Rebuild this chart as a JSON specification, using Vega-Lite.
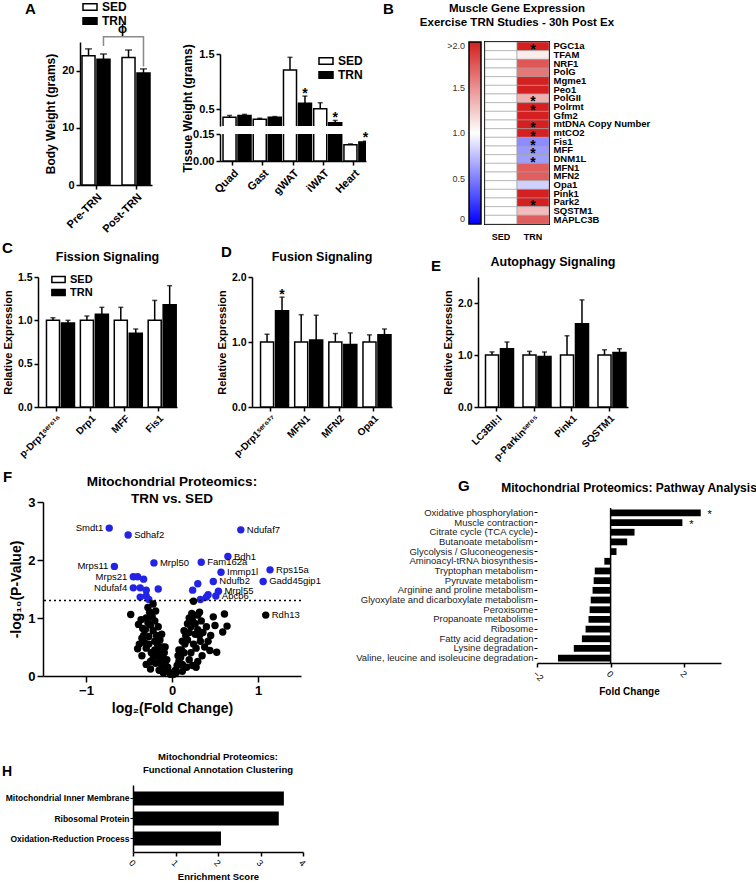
{
"$schema": "https://vega.github.io/schema/vega-lite/v6.json",
"padding": {"left": 0, "top": 1, "right": 0, "bottom": 0},
"background": "white",
"spacing": 37,
"resolve": {"scale": {"fill": "independent", "color": "independent"}},
"vconcat": [
 {"spacing": -2, "resolve": {"scale": {"fill": "independent", "color": "independent"}}, "vconcat": [
  {"spacing": 24, "resolve": {"scale": {"fill": "independent", "color": "independent"}}, "hconcat": [
   {"width": 1, "height": 1, "data": {"values": []}, "mark": "point", "encoding": {}},
   {"spacing": 24, "resolve": {"scale": {"fill": "independent", "color": "independent"}}, "hconcat": [
    {"spacing": 29, "resolve": {"scale": {"fill": "independent", "color": "independent"}}, "hconcat": [
     {
      "title": {"text": "A", "anchor": "start", "frame": "group", "fontSize": 15, "dx": -55, "offset": -16},
      "width": 72, "height": 143,
      "layer": [
       {"data": {"name": "bw"}, "mark": {"type": "bar", "stroke": "#000", "strokeWidth": 1.5},
        "encoding": {
         "x": {"field": "time", "type": "nominal", "scale": {"domain": ["Pre-TRN", "Post-TRN"], "paddingInner": 0.3, "paddingOuter": 0.05}, "axis": {"title": null, "labelAngle": -45, "labelFontSize": 11}},
         "xOffset": {"field": "group", "type": "nominal", "scale": {"domain": ["SED", "TRN"], "paddingInner": 0.13}},
         "y": {"field": "mean", "type": "quantitative", "scale": {"domain": [0, 25], "nice": false}, "axis": {"title": "Body  Weight (grams)", "values": [0, 5, 10, 15, 20, 25], "labelFontSize": 11, "titleFontSize": 12}},
         "fill": {"field": "group", "type": "nominal", "scale": {"domain": ["SED", "TRN"], "range": ["#ffffff", "#000000"]},
          "legend": {"title": null, "orient": "none", "legendX": 4, "legendY": -41, "symbolType": "M-1.4,-0.65H1.4V0.65H-1.4Z", "symbolSize": 100, "symbolStrokeColor": "#000", "symbolStrokeWidth": 1.5, "labelFontSize": 12, "labelFontWeight": "bold", "rowPadding": 0, "labelOffset": 6, "padding": 0}}
        }},
       {"data": {"name": "bw"}, "mark": {"type": "rule", "strokeWidth": 1.5, "color": "#000"},
        "encoding": {"x": {"field": "time", "type": "nominal"}, "xOffset": {"field": "group", "type": "nominal"}, "y": {"field": "mean", "type": "quantitative"}, "y2": {"field": "upper"}}},
       {"data": {"name": "bw"}, "mark": {"type": "tick", "thickness": 1.5, "size": 7, "color": "#000"},
        "encoding": {"x": {"field": "time", "type": "nominal"}, "xOffset": {"field": "group", "type": "nominal"}, "y": {"field": "upper", "type": "quantitative"}}},
       {"data": {"name": "bracket"}, "mark": {"type": "line", "color": "#8a8a8a", "strokeWidth": 1.5},
        "encoding": {"x": {"field": "time", "type": "nominal"}, "xOffset": {"field": "group", "type": "nominal"}, "y": {"field": "y", "type": "quantitative"}, "order": {"field": "o", "type": "quantitative"}}},
       {"data": {"name": "phi"}, "mark": {"type": "text", "fontSize": 12, "fontWeight": "bold", "dx": -6},
        "encoding": {"x": {"field": "time", "type": "nominal"}, "xOffset": {"field": "group", "type": "nominal"}, "y": {"field": "y", "type": "quantitative"}, "text": {"field": "label"}}}
      ]
     },
     {
      "title": {"text": "B", "anchor": "start", "frame": "group", "fontSize": 15, "dx": 163, "offset": 25},
      "spacing": 8, "bounds": "flush",
      "resolve": {"scale": {"fill": "independent", "color": "independent"}},
      "vconcat": [
       {"width": 146, "height": 4, "data": {"values": []}, "mark": "point", "encoding": {}},
       {"width": 146, "height": 72, "data": {"name": "tissue"},
        "encoding": {
         "x": {"field": "tissue", "type": "nominal", "scale": {"domain": ["Quad", "Gast", "gWAT", "iWAT", "Heart"], "paddingInner": 0.37, "paddingOuter": 0.1}, "axis": null},
         "xOffset": {"field": "group", "type": "nominal", "scale": {"domain": ["SED", "TRN"], "paddingInner": 0.4}}
        },
        "layer": [
         {"mark": {"type": "bar", "stroke": "#000", "strokeWidth": 1.5, "clip": true},
          "encoding": {
           "y": {"field": "mean", "type": "quantitative", "scale": {"domain": [0.2, 1.5], "nice": false, "zero": false}, "axis": {"values": [0.5, 1, 1.5], "format": ".1f", "title": "Tissue Weight (grams)", "titleY": 54, "labelFontSize": 11, "titleFontSize": 12}},
           "fill": {"field": "group", "type": "nominal", "scale": {"domain": ["SED", "TRN"], "range": ["#ffffff", "#000000"]},
            "legend": {"title": null, "orient": "none", "legendX": 100, "legendY": 1, "symbolType": "M-1.4,-0.65H1.4V0.65H-1.4Z", "symbolSize": 100, "symbolStrokeColor": "#000", "symbolStrokeWidth": 1.5, "labelFontSize": 12, "labelFontWeight": "bold", "rowPadding": 0, "labelOffset": 6, "padding": 0}}
          }},
         {"mark": {"type": "rule", "strokeWidth": 1.5, "color": "#000", "clip": true}, "encoding": {"y": {"field": "mean", "type": "quantitative"}, "y2": {"field": "upper"}}},
         {"mark": {"type": "tick", "thickness": 1.5, "size": 5, "color": "#000", "clip": true}, "encoding": {"y": {"field": "upper", "type": "quantitative"}}},
         {"transform": [{"filter": "datum.sig && datum.upper > 0.2"}], "mark": {"type": "text", "text": "*", "fontSize": 14, "fontWeight": "bold", "dy": -2}, "encoding": {"y": {"field": "upper", "type": "quantitative"}}}
        ]
       },
       {"width": 146, "height": 27, "data": {"name": "tissue"},
        "encoding": {
         "x": {"field": "tissue", "type": "nominal", "scale": {"domain": ["Quad", "Gast", "gWAT", "iWAT", "Heart"], "paddingInner": 0.37, "paddingOuter": 0.1}, "axis": {"title": null, "labelAngle": -45, "labelFontSize": 11}},
         "xOffset": {"field": "group", "type": "nominal", "scale": {"domain": ["SED", "TRN"], "paddingInner": 0.4}}
        },
        "layer": [
         {"mark": {"type": "bar", "stroke": "#000", "strokeWidth": 1.5, "clip": true},
          "encoding": {
           "y": {"field": "mean", "type": "quantitative", "scale": {"domain": [0, 0.15], "nice": false}, "axis": {"values": [0, 0.05, 0.1, 0.15], "format": ".2f", "title": null, "labelFontSize": 11, "labelOverlap": false}},
           "fill": {"field": "group", "type": "nominal", "scale": {"domain": ["SED", "TRN"], "range": ["#ffffff", "#000000"]}, "legend": null}
          }},
         {"mark": {"type": "rule", "strokeWidth": 1.5, "color": "#000", "clip": true}, "encoding": {"y": {"field": "mean", "type": "quantitative"}, "y2": {"field": "upper"}}},
         {"mark": {"type": "tick", "thickness": 1.5, "size": 5, "color": "#000", "clip": true}, "encoding": {"y": {"field": "upper", "type": "quantitative"}}},
         {"transform": [{"filter": "datum.sig && datum.upper < 0.2"}], "mark": {"type": "text", "text": "*", "fontSize": 14, "fontWeight": "bold", "dy": -3}, "encoding": {"y": {"field": "upper", "type": "quantitative"}}}
        ]
       }
      ]
     }
    ]},
    {
     "title": {"text": ["Muscle Gene Expression", "Exercise TRN Studies - 30h Post Ex"], "fontSize": 11.5, "anchor": "middle", "frame": "group", "offset": 12, "lineHeight": 14},
     "width": 64, "height": 182,
     "view": {"stroke": "#000", "strokeWidth": 2},
     "data": {"name": "heat"},
     "encoding": {
      "x": {"field": "group", "type": "nominal", "scale": {"domain": ["SED", "TRN"], "paddingInner": 0, "paddingOuter": 0}, "axis": {"orient": "bottom", "title": null, "labelAngle": 0, "ticks": false, "domain": false, "labelFontSize": 9, "labelPadding": 8}},
      "y": {"field": "gene", "type": "nominal", "scale": {"domain": ["PGC1a", "TFAM", "NRF1", "PolG", "Mgme1", "Peo1", "PolGII", "Polrmt", "Gfm2", "mtDNA Copy Number", "mtCO2", "Fis1", "MFF", "DNM1L", "MFN1", "MFN2", "Opa1", "Pink1", "Park2", "SQSTM1", "MAPLC3B"], "paddingInner": 0, "paddingOuter": 0}, "axis": {"orient": "right", "title": null, "ticks": false, "domain": false, "labelFontSize": 9.5, "labelPadding": 4}}
     },
     "layer": [
      {"mark": {"type": "rect", "stroke": "#a0a0a0", "strokeWidth": 0.6},
       "encoding": {"color": {"field": "value", "type": "quantitative", "scale": {"type": "linear", "domain": [0, 1, 2], "range": ["#0000ff", "#ffffff", "#d42020"], "interpolate": "rgb", "clamp": true, "nice": false, "zero": false},
        "legend": {"title": null, "orient": "none", "legendX": -16, "legendY": 0, "direction": "vertical", "gradientLength": 182, "gradientThickness": 12, "gradientStrokeColor": "#000", "gradientStrokeWidth": 1.5, "values": [0, 0.5, 1, 1.5, 2], "labelExpr": "datum.value >= 2 ? '>2.0' : datum.value == 0 ? '0' : format(datum.value, '.1f')", "labelFontSize": 9, "labelFontWeight": "normal", "labelColor": "#333", "labelOverlap": false,
         "encode": {"labels": {"update": {"align": {"value": "right"}, "x": {"value": -4}}}}}}}},
      {"transform": [{"filter": "datum.sig"}], "mark": {"type": "text", "text": "*", "fontSize": 14, "fontWeight": "bold", "dy": 4}}
     ]
    }
   ]}
  ]},
  {"spacing": 6, "resolve": {"scale": {"fill": "independent", "color": "independent"}}, "vconcat": [
   {"spacing": 1, "resolve": {"scale": {"fill": "independent", "color": "independent"}}, "hconcat": [
    {"width": 1, "height": 1, "data": {"values": []}, "mark": "point", "encoding": {}},
    {"spacing": 39, "resolve": {"scale": {"fill": "independent", "color": "independent"}}, "hconcat": [
     {"spacing": 39, "resolve": {"scale": {"fill": "independent", "color": "independent"}}, "hconcat": [
      {
       "title": {"text": "C", "anchor": "start", "frame": "group", "fontSize": 15, "dx": -36, "offset": -5},
       "resolve": {"scale": {"fill": "independent", "color": "independent"}},
       "vconcat": [
        {"title": {"text": "Fission Signaling", "fontSize": 12.5, "offset": 9},
         "width": 139, "height": 130, "data": {"name": "fission"},
         "encoding": {
          "x": {"field": "protein", "type": "nominal", "scale": {"domain": ["p-Drp1ˢᵉʳ⁶¹⁶", "Drp1", "MFF", "Fis1"], "paddingInner": 0.4, "paddingOuter": 0.25}, "axis": {"title": null, "labelAngle": -45, "labelFontSize": 10}},
          "xOffset": {"field": "group", "type": "nominal", "scale": {"domain": ["SED", "TRN"], "paddingInner": 0.38}}
         },
         "layer": [
          {"mark": {"type": "bar", "stroke": "#000", "strokeWidth": 1.5},
           "encoding": {
            "y": {"field": "mean", "type": "quantitative", "scale": {"domain": [0, 1.5], "nice": false}, "axis": {"values": [0, 0.5, 1, 1.5], "format": ".1f", "title": "Relative  Expression", "labelFontSize": 10.5, "titleFontSize": 11}},
            "fill": {"field": "group", "type": "nominal", "scale": {"domain": ["SED", "TRN"], "range": ["#ffffff", "#000000"]},
             "legend": {"title": null, "orient": "none", "legendX": 15, "legendY": -3, "symbolType": "M-1.4,-0.65H1.4V0.65H-1.4Z", "symbolSize": 90, "symbolStrokeColor": "#000", "symbolStrokeWidth": 1.5, "labelFontSize": 11, "labelFontWeight": "bold", "rowPadding": 0, "labelOffset": 6, "padding": 0}}
           }},
          {"mark": {"type": "rule", "strokeWidth": 1.5, "color": "#000"}, "encoding": {"y": {"field": "mean", "type": "quantitative"}, "y2": {"field": "upper"}}},
          {"mark": {"type": "tick", "thickness": 1.5, "size": 5, "color": "#000"}, "encoding": {"y": {"field": "upper", "type": "quantitative"}}}
         ]
        }
       ]
      },
      {
       "title": {"text": "D", "anchor": "start", "frame": "group", "fontSize": 15, "dx": -31, "offset": -9},
       "resolve": {"scale": {"fill": "independent", "color": "independent"}},
       "vconcat": [
        {"title": {"text": "Fusion Signaling", "fontSize": 12.5, "offset": 9},
         "width": 140, "height": 130, "data": {"name": "fusion"},
         "encoding": {
          "x": {"field": "protein", "type": "nominal", "scale": {"domain": ["p-Drp1ˢᵉʳ⁶³⁷", "MFN1", "MFN2", "Opa1"], "paddingInner": 0.4, "paddingOuter": 0.25}, "axis": {"title": null, "labelAngle": -45, "labelFontSize": 10}},
          "xOffset": {"field": "group", "type": "nominal", "scale": {"domain": ["SED", "TRN"], "paddingInner": 0.38}}
         },
         "layer": [
          {"mark": {"type": "bar", "stroke": "#000", "strokeWidth": 1.5},
           "encoding": {
            "y": {"field": "mean", "type": "quantitative", "scale": {"domain": [0, 2], "nice": false}, "axis": {"values": [0, 0.5, 1, 1.5, 2], "format": ".1f", "title": "Relative  Expression", "labelFontSize": 10.5, "titleFontSize": 11}},
            "fill": {"field": "group", "type": "nominal", "scale": {"domain": ["SED", "TRN"], "range": ["#ffffff", "#000000"]}, "legend": null}
           }},
          {"mark": {"type": "rule", "strokeWidth": 1.5, "color": "#000"}, "encoding": {"y": {"field": "mean", "type": "quantitative"}, "y2": {"field": "upper"}}},
          {"mark": {"type": "tick", "thickness": 1.5, "size": 5, "color": "#000"}, "encoding": {"y": {"field": "upper", "type": "quantitative"}}},
          {"transform": [{"filter": "datum.sig"}], "mark": {"type": "text", "text": "*", "fontSize": 14, "fontWeight": "bold", "dy": -2}, "encoding": {"y": {"field": "upper", "type": "quantitative"}}}
         ]
        }
       ]
      }
     ]},
     {
      "title": {"text": "E", "anchor": "start", "frame": "group", "fontSize": 15, "dx": -47, "offset": -18},
      "resolve": {"scale": {"fill": "independent", "color": "independent"}},
      "vconcat": [
       {"title": {"text": "Autophagy Signaling", "fontSize": 12.5, "offset": 9},
        "width": 150, "height": 130, "data": {"name": "autophagy"},
        "encoding": {
         "x": {"field": "protein", "type": "nominal", "scale": {"domain": ["LC3BII:I", "p-Parkinˢᵉʳ⁶⁵", "Pink1", "SQSTM1"], "paddingInner": 0.4, "paddingOuter": 0.2}, "axis": {"title": null, "labelAngle": -45, "labelFontSize": 10}},
         "xOffset": {"field": "group", "type": "nominal", "scale": {"domain": ["SED", "TRN"], "paddingInner": 0.38}}
        },
        "layer": [
         {"mark": {"type": "bar", "stroke": "#000", "strokeWidth": 1.5},
          "encoding": {
           "y": {"field": "mean", "type": "quantitative", "scale": {"domain": [0, 2.5], "nice": false}, "axis": {"values": [0, 0.5, 1, 1.5, 2, 2.5], "format": ".1f", "title": "Relative  Expression", "labelFontSize": 10.5, "titleFontSize": 11}},
           "fill": {"field": "group", "type": "nominal", "scale": {"domain": ["SED", "TRN"], "range": ["#ffffff", "#000000"]}, "legend": null}
          }},
         {"mark": {"type": "rule", "strokeWidth": 1.5, "color": "#000"}, "encoding": {"y": {"field": "mean", "type": "quantitative"}, "y2": {"field": "upper"}}},
         {"mark": {"type": "tick", "thickness": 1.5, "size": 5, "color": "#000"}, "encoding": {"y": {"field": "upper", "type": "quantitative"}}}
        ]
       }
      ]
     }
    ]}
   ]},
   {"spacing": 2, "resolve": {"scale": {"fill": "independent", "color": "independent"}}, "hconcat": [
    {"width": 1, "height": 1, "data": {"values": []}, "mark": "point", "encoding": {}},
    {"spacing": 34, "resolve": {"scale": {"fill": "independent", "color": "independent"}}, "hconcat": [
     {
      "title": {"text": "F", "anchor": "start", "frame": "group", "fontSize": 15, "dx": -40, "offset": -10},
      "resolve": {"scale": {"fill": "independent", "color": "independent"}},
      "vconcat": [
       {"title": {"text": ["Mitochondrial Proteomics:", "TRN vs. SED"], "fontSize": 13.5, "lineHeight": 17, "offset": -9},
        "width": 258, "height": 174,
        "layer": [
         {"data": {"name": "volcano"}, "mark": {"type": "circle", "size": 55, "opacity": 1},
          "encoding": {
           "x": {"field": "x", "type": "quantitative", "scale": {"domain": [-1.5, 1.5], "nice": false}, "axis": {"values": [-1, 0, 1], "format": "d", "title": "log₂(Fold Change)", "labelFontSize": 13, "titleFontSize": 14, "tickSize": 6}},
           "y": {"field": "y", "type": "quantitative", "scale": {"domain": [0, 3], "nice": false}, "axis": {"values": [0, 1, 2, 3], "format": "d", "title": "-log₁₀(P-Value)", "labelFontSize": 13, "titleFontSize": 14, "tickSize": 6}},
           "color": {"field": "sig", "type": "nominal", "scale": {"domain": ["no", "yes"], "range": ["#000000", "#2323e6"]}, "legend": null}
          }},
         {"data": {"values": [{}]}, "mark": {"type": "rule", "strokeDash": [2, 3], "strokeWidth": 1.5, "color": "#000"}, "encoding": {"y": {"datum": 1.3}}},
         {"data": {"name": "volcano"}, "transform": [{"filter": {"field": "label", "oneOf": ["Smdt1", "Mrps11", "Mrps21", "Ndufaf4"]}}],
          "mark": {"type": "text", "align": "right", "dx": -6, "fontSize": 9.5},
          "encoding": {"x": {"field": "x", "type": "quantitative"}, "y": {"field": "y", "type": "quantitative"}, "text": {"field": "label"}}},
         {"data": {"name": "volcano"}, "transform": [{"filter": "isValid(datum.label) && datum.label != '' && indexof(['Smdt1','Mrps11','Mrps21','Ndufaf4'], datum.label) < 0"}],
          "mark": {"type": "text", "align": "left", "dx": 6, "fontSize": 9.5},
          "encoding": {"x": {"field": "x", "type": "quantitative"}, "y": {"field": "y", "type": "quantitative"}, "text": {"field": "label"}}}
        ]
       }
      ]
     },
     {
      "title": {"text": "G", "anchor": "start", "frame": "group", "fontSize": 15, "dx": -79, "offset": -12},
      "bounds": "flush", "spacing": 5,
      "resolve": {"scale": {"fill": "independent", "color": "independent"}},
      "vconcat": [
       {"width": 1, "height": 1, "data": {"values": []}, "mark": "point", "encoding": {}},
       {"title": {"text": "Mitochondrial Proteomics: Pathway Analysis", "fontSize": 12, "anchor": "middle", "frame": "group", "offset": 12},
        "width": 184, "height": 155,
        "layer": [
         {"data": {"name": "pathway"}, "mark": {"type": "bar", "color": "#000"},
          "encoding": {
           "y": {"field": "pathway", "type": "nominal", "sort": null, "scale": {"paddingInner": 0.3, "paddingOuter": 0.15}, "axis": {"title": null, "domain": false, "labelFontWeight": "normal", "labelFontSize": 9.5, "labelColor": "#222", "tickSize": 3, "tickWidth": 1, "labelPadding": 1}},
           "x": {"field": "fc", "type": "quantitative", "scale": {"domain": [-2, 3], "nice": false}, "axis": {"values": [-2, -1, 0, 1, 2, 3], "format": "d", "labelAngle": 45, "labelOverlap": false, "labelFontWeight": "normal", "labelFontSize": 9, "title": "Fold Change", "titleFontSize": 10, "tickSize": 4}}
          }},
         {"data": {"values": [{}]}, "mark": {"type": "rule", "strokeWidth": 1.5, "color": "#000"}, "encoding": {"x": {"datum": 0}}},
         {"data": {"name": "pathway"}, "transform": [{"filter": "datum.sig"}], "mark": {"type": "text", "text": "*", "fontSize": 11, "dx": 9, "dy": 2},
          "encoding": {"y": {"field": "pathway", "type": "nominal", "sort": null}, "x": {"field": "fc", "type": "quantitative"}}}
        ]
       }
      ]
     }
    ]}
   ]}
  ]}
 ]},
 {"spacing": 1, "resolve": {"scale": {"fill": "independent", "color": "independent"}}, "hconcat": [
  {"width": 1, "height": 1, "data": {"values": []}, "mark": "point", "encoding": {}},
  {
   "title": {"text": "H", "anchor": "start", "frame": "group", "fontSize": 14, "dx": -131, "offset": -27},
   "resolve": {"scale": {"fill": "independent", "color": "independent"}},
   "vconcat": [
    {"title": {"text": ["Mitochondrial Proteomics:", "Functional Annotation Clustering"], "fontSize": 9.5, "lineHeight": 12.5, "offset": 11},
     "width": 170, "height": 67, "data": {"name": "cluster"},
     "mark": {"type": "bar", "color": "#000"},
     "encoding": {
      "y": {"field": "term", "type": "nominal", "sort": null, "scale": {"paddingInner": 0.3, "paddingOuter": 0.32}, "axis": {"title": null, "labelFontSize": 8.5, "tickSize": 3, "tickWidth": 1, "labelPadding": 1}},
      "x": {"field": "score", "type": "quantitative", "scale": {"domain": [0, 4], "nice": false}, "axis": {"values": [0, 1, 2, 3, 4], "format": "d", "labelAngle": 45, "labelOverlap": false, "labelFontWeight": "normal", "labelFontSize": 9, "title": "Enrichment Score", "titleFontSize": 9.5, "tickSize": 4}}
     }
    }
   ]
  }
 ]}
],
"config": {
 "font": "Liberation Sans",
 "view": {"stroke": null},
 "axis": {"grid": false, "domainColor": "#000", "domainWidth": 1.5, "tickColor": "#000", "tickWidth": 1.5, "tickSize": 4, "labelColor": "#000", "titleColor": "#000", "labelFontWeight": "bold", "titleFontWeight": "bold", "labelFont": "Liberation Sans", "titleFont": "Liberation Sans", "labelFlush": false, "labelOverlap": false, "labelPadding": 2},
 "legend": {"labelFont": "Liberation Sans", "labelColor": "#000"},
 "title": {"font": "Liberation Sans", "fontWeight": "bold", "color": "#000"},
 "text": {"font": "Liberation Sans", "color": "#000"}
},
"datasets": {
 "bw": [
  {"time": "Pre-TRN", "group": "SED", "mean": 22.6, "upper": 23.8},
  {"time": "Pre-TRN", "group": "TRN", "mean": 22.0, "upper": 22.9},
  {"time": "Post-TRN", "group": "SED", "mean": 22.3, "upper": 23.6},
  {"time": "Post-TRN", "group": "TRN", "mean": 19.6, "upper": 20.3}
 ],
 "bracket": [
  {"time": "Pre-TRN", "group": "TRN", "y": 24.3, "o": 1},
  {"time": "Pre-TRN", "group": "TRN", "y": 25.9, "o": 2},
  {"time": "Post-TRN", "group": "TRN", "y": 25.9, "o": 3},
  {"time": "Post-TRN", "group": "TRN", "y": 20.7, "o": 4}
 ],
 "phi": [
  {"time": "Post-TRN", "group": "SED", "y": 27.3, "label": "ϕ"}
 ],
 "tissue": [
  {"tissue": "Quad", "group": "SED", "mean": 0.36, "upper": 0.39, "sig": false},
  {"tissue": "Quad", "group": "TRN", "mean": 0.39, "upper": 0.41, "sig": false},
  {"tissue": "Gast", "group": "SED", "mean": 0.32, "upper": 0.34, "sig": false},
  {"tissue": "Gast", "group": "TRN", "mean": 0.36, "upper": 0.37, "sig": false},
  {"tissue": "gWAT", "group": "SED", "mean": 1.21, "upper": 1.44, "sig": false},
  {"tissue": "gWAT", "group": "TRN", "mean": 0.61, "upper": 0.74, "sig": true},
  {"tissue": "iWAT", "group": "SED", "mean": 0.51, "upper": 0.62, "sig": false},
  {"tissue": "iWAT", "group": "TRN", "mean": 0.26, "upper": 0.3, "sig": true},
  {"tissue": "Heart", "group": "SED", "mean": 0.09, "upper": 0.095, "sig": false},
  {"tissue": "Heart", "group": "TRN", "mean": 0.105, "upper": 0.11, "sig": true}
 ],
 "heat": [
  {"gene": "PGC1a", "group": "SED", "value": 1, "sig": false}, {"gene": "PGC1a", "group": "TRN", "value": 2.3, "sig": true},
  {"gene": "TFAM", "group": "SED", "value": 1, "sig": false}, {"gene": "TFAM", "group": "TRN", "value": 1.08, "sig": false},
  {"gene": "NRF1", "group": "SED", "value": 1, "sig": false}, {"gene": "NRF1", "group": "TRN", "value": 1.75, "sig": false},
  {"gene": "PolG", "group": "SED", "value": 1, "sig": false}, {"gene": "PolG", "group": "TRN", "value": 1.6, "sig": false},
  {"gene": "Mgme1", "group": "SED", "value": 1, "sig": false}, {"gene": "Mgme1", "group": "TRN", "value": 2.1, "sig": false},
  {"gene": "Peo1", "group": "SED", "value": 1, "sig": false}, {"gene": "Peo1", "group": "TRN", "value": 2.1, "sig": false},
  {"gene": "PolGII", "group": "SED", "value": 1, "sig": false}, {"gene": "PolGII", "group": "TRN", "value": 1.35, "sig": true},
  {"gene": "Polrmt", "group": "SED", "value": 1, "sig": false}, {"gene": "Polrmt", "group": "TRN", "value": 2.1, "sig": true},
  {"gene": "Gfm2", "group": "SED", "value": 1, "sig": false}, {"gene": "Gfm2", "group": "TRN", "value": 2.1, "sig": false},
  {"gene": "mtDNA Copy Number", "group": "SED", "value": 1, "sig": false}, {"gene": "mtDNA Copy Number", "group": "TRN", "value": 2.1, "sig": true},
  {"gene": "mtCO2", "group": "SED", "value": 1, "sig": false}, {"gene": "mtCO2", "group": "TRN", "value": 2.1, "sig": true},
  {"gene": "Fis1", "group": "SED", "value": 1, "sig": false}, {"gene": "Fis1", "group": "TRN", "value": 0.55, "sig": true},
  {"gene": "MFF", "group": "SED", "value": 1, "sig": false}, {"gene": "MFF", "group": "TRN", "value": 0.6, "sig": true},
  {"gene": "DNM1L", "group": "SED", "value": 1, "sig": false}, {"gene": "DNM1L", "group": "TRN", "value": 0.62, "sig": true},
  {"gene": "MFN1", "group": "SED", "value": 1, "sig": false}, {"gene": "MFN1", "group": "TRN", "value": 1.72, "sig": false},
  {"gene": "MFN2", "group": "SED", "value": 1, "sig": false}, {"gene": "MFN2", "group": "TRN", "value": 1.72, "sig": false},
  {"gene": "Opa1", "group": "SED", "value": 1, "sig": false}, {"gene": "Opa1", "group": "TRN", "value": 0.82, "sig": false},
  {"gene": "Pink1", "group": "SED", "value": 1, "sig": false}, {"gene": "Pink1", "group": "TRN", "value": 2.1, "sig": false},
  {"gene": "Park2", "group": "SED", "value": 1, "sig": false}, {"gene": "Park2", "group": "TRN", "value": 2.1, "sig": true},
  {"gene": "SQSTM1", "group": "SED", "value": 1, "sig": false}, {"gene": "SQSTM1", "group": "TRN", "value": 1.3, "sig": false},
  {"gene": "MAPLC3B", "group": "SED", "value": 1, "sig": false}, {"gene": "MAPLC3B", "group": "TRN", "value": 1.72, "sig": false}
 ],
 "fission": [
  {"protein": "p-Drp1ˢᵉʳ⁶¹⁶", "group": "SED", "mean": 1.0, "upper": 1.03},
  {"protein": "p-Drp1ˢᵉʳ⁶¹⁶", "group": "TRN", "mean": 0.97, "upper": 1.0},
  {"protein": "Drp1", "group": "SED", "mean": 1.0, "upper": 1.05},
  {"protein": "Drp1", "group": "TRN", "mean": 1.07, "upper": 1.15},
  {"protein": "MFF", "group": "SED", "mean": 1.0, "upper": 1.15},
  {"protein": "MFF", "group": "TRN", "mean": 0.85, "upper": 0.9},
  {"protein": "Fis1", "group": "SED", "mean": 1.0, "upper": 1.23},
  {"protein": "Fis1", "group": "TRN", "mean": 1.18, "upper": 1.4}
 ],
 "fusion": [
  {"protein": "p-Drp1ˢᵉʳ⁶³⁷", "group": "SED", "mean": 1.0, "upper": 1.12, "sig": false},
  {"protein": "p-Drp1ˢᵉʳ⁶³⁷", "group": "TRN", "mean": 1.48, "upper": 1.69, "sig": true},
  {"protein": "MFN1", "group": "SED", "mean": 1.0, "upper": 1.42, "sig": false},
  {"protein": "MFN1", "group": "TRN", "mean": 1.03, "upper": 1.41, "sig": false},
  {"protein": "MFN2", "group": "SED", "mean": 1.0, "upper": 1.13, "sig": false},
  {"protein": "MFN2", "group": "TRN", "mean": 0.96, "upper": 1.14, "sig": false},
  {"protein": "Opa1", "group": "SED", "mean": 1.0, "upper": 1.11, "sig": false},
  {"protein": "Opa1", "group": "TRN", "mean": 1.11, "upper": 1.2, "sig": false}
 ],
 "autophagy": [
  {"protein": "LC3BII:I", "group": "SED", "mean": 1.0, "upper": 1.06},
  {"protein": "LC3BII:I", "group": "TRN", "mean": 1.12, "upper": 1.25},
  {"protein": "p-Parkinˢᵉʳ⁶⁵", "group": "SED", "mean": 1.0, "upper": 1.07},
  {"protein": "p-Parkinˢᵉʳ⁶⁵", "group": "TRN", "mean": 0.97, "upper": 1.06},
  {"protein": "Pink1", "group": "SED", "mean": 1.0, "upper": 1.37},
  {"protein": "Pink1", "group": "TRN", "mean": 1.6, "upper": 2.06},
  {"protein": "SQSTM1", "group": "SED", "mean": 1.0, "upper": 1.1},
  {"protein": "SQSTM1", "group": "TRN", "mean": 1.05, "upper": 1.12}
 ],
 "volcano": [
  {"x": -0.73, "y": 2.55, "sig": "yes", "label": "Smdt1"},
  {"x": -0.51, "y": 2.43, "sig": "yes", "label": "Sdhaf2"},
  {"x": -0.21, "y": 1.95, "sig": "yes", "label": "Mrpl50"},
  {"x": -0.67, "y": 1.89, "sig": "yes", "label": "Mrps11"},
  {"x": -0.45, "y": 1.71, "sig": "yes", "label": "Mrps21"},
  {"x": -0.40, "y": 1.71, "sig": "yes", "label": ""},
  {"x": -0.33, "y": 1.67, "sig": "yes", "label": ""},
  {"x": -0.45, "y": 1.52, "sig": "yes", "label": "Ndufaf4"},
  {"x": -0.37, "y": 1.52, "sig": "yes", "label": ""},
  {"x": -0.30, "y": 1.48, "sig": "yes", "label": ""},
  {"x": -0.16, "y": 1.50, "sig": "yes", "label": ""},
  {"x": -0.37, "y": 1.36, "sig": "yes", "label": ""},
  {"x": -0.30, "y": 1.38, "sig": "yes", "label": ""},
  {"x": -0.27, "y": 1.32, "sig": "yes", "label": ""},
  {"x": 0.80, "y": 2.52, "sig": "yes", "label": "Ndufaf7"},
  {"x": 0.65, "y": 2.06, "sig": "yes", "label": "Bdh1"},
  {"x": 0.34, "y": 1.96, "sig": "yes", "label": "Fam162a"},
  {"x": 0.57, "y": 1.79, "sig": "yes", "label": "Immp1l"},
  {"x": 1.14, "y": 1.83, "sig": "yes", "label": "Rps15a"},
  {"x": 0.48, "y": 1.63, "sig": "yes", "label": "Ndufb2"},
  {"x": 1.06, "y": 1.63, "sig": "yes", "label": "Gadd45gip1"},
  {"x": 0.54, "y": 1.46, "sig": "yes", "label": "Mrpl55"},
  {"x": 0.51, "y": 1.38, "sig": "yes", "label": "Abcb6"},
  {"x": 0.24, "y": 1.48, "sig": "yes", "label": ""},
  {"x": 0.30, "y": 1.59, "sig": "yes", "label": ""},
  {"x": 0.33, "y": 1.32, "sig": "yes", "label": ""},
  {"x": 0.40, "y": 1.36, "sig": "yes", "label": ""},
  {"x": 0.42, "y": 1.40, "sig": "yes", "label": ""},
  {"x": 1.09, "y": 1.05, "sig": "no", "label": "Rdh13"},
  {"x": -0.02, "y": 0.03, "sig": "no", "label": ""}, {"x": -0.04, "y": 0.08, "sig": "no", "label": ""},
  {"x": -0.05, "y": 0.15, "sig": "no", "label": ""}, {"x": -0.07, "y": 0.12, "sig": "no", "label": ""},
  {"x": -0.08, "y": 0.22, "sig": "no", "label": ""}, {"x": -0.10, "y": 0.30, "sig": "no", "label": ""},
  {"x": -0.06, "y": 0.28, "sig": "no", "label": ""}, {"x": -0.12, "y": 0.18, "sig": "no", "label": ""},
  {"x": -0.09, "y": 0.40, "sig": "no", "label": ""}, {"x": -0.13, "y": 0.35, "sig": "no", "label": ""},
  {"x": -0.15, "y": 0.45, "sig": "no", "label": ""}, {"x": -0.11, "y": 0.50, "sig": "no", "label": ""},
  {"x": -0.17, "y": 0.55, "sig": "no", "label": ""}, {"x": -0.14, "y": 0.62, "sig": "no", "label": ""},
  {"x": -0.20, "y": 0.60, "sig": "no", "label": ""}, {"x": -0.18, "y": 0.70, "sig": "no", "label": ""},
  {"x": -0.12, "y": 0.72, "sig": "no", "label": ""}, {"x": -0.22, "y": 0.78, "sig": "no", "label": ""},
  {"x": -0.16, "y": 0.85, "sig": "no", "label": ""}, {"x": -0.25, "y": 0.88, "sig": "no", "label": ""},
  {"x": -0.20, "y": 0.95, "sig": "no", "label": ""}, {"x": -0.28, "y": 0.92, "sig": "no", "label": ""},
  {"x": -0.23, "y": 1.02, "sig": "no", "label": ""}, {"x": -0.30, "y": 1.00, "sig": "no", "label": ""},
  {"x": -0.26, "y": 1.10, "sig": "no", "label": ""}, {"x": -0.19, "y": 1.12, "sig": "no", "label": ""},
  {"x": -0.31, "y": 0.80, "sig": "no", "label": ""}, {"x": -0.33, "y": 0.70, "sig": "no", "label": ""},
  {"x": -0.35, "y": 0.65, "sig": "no", "label": ""}, {"x": -0.27, "y": 0.55, "sig": "no", "label": ""},
  {"x": -0.30, "y": 0.48, "sig": "no", "label": ""}, {"x": -0.24, "y": 0.40, "sig": "no", "label": ""},
  {"x": -0.22, "y": 0.30, "sig": "no", "label": ""}, {"x": -0.19, "y": 0.22, "sig": "no", "label": ""},
  {"x": -0.15, "y": 0.10, "sig": "no", "label": ""}, {"x": -0.10, "y": 0.05, "sig": "no", "label": ""},
  {"x": -0.30, "y": 0.20, "sig": "no", "label": ""}, {"x": -0.35, "y": 0.35, "sig": "no", "label": ""},
  {"x": -0.38, "y": 0.55, "sig": "no", "label": ""}, {"x": -0.34, "y": 0.82, "sig": "no", "label": ""},
  {"x": -0.36, "y": 0.97, "sig": "no", "label": ""}, {"x": -0.28, "y": 1.18, "sig": "no", "label": ""},
  {"x": -0.22, "y": 1.24, "sig": "no", "label": ""}, {"x": -0.48, "y": 1.06, "sig": "no", "label": ""},
  {"x": -0.39, "y": 0.89, "sig": "no", "label": ""}, {"x": -0.40, "y": 0.47, "sig": "no", "label": ""},
  {"x": -0.25, "y": 0.25, "sig": "no", "label": ""}, {"x": -0.20, "y": 0.45, "sig": "no", "label": ""},
  {"x": -0.08, "y": 0.50, "sig": "no", "label": ""}, {"x": -0.27, "y": 0.68, "sig": "no", "label": ""},
  {"x": -0.32, "y": 0.58, "sig": "no", "label": ""}, {"x": -0.25, "y": 0.12, "sig": "no", "label": ""},
  {"x": -0.18, "y": 0.35, "sig": "no", "label": ""}, {"x": -0.14, "y": 0.25, "sig": "no", "label": ""},
  {"x": 0.02, "y": 0.03, "sig": "no", "label": ""}, {"x": 0.04, "y": 0.10, "sig": "no", "label": ""},
  {"x": 0.06, "y": 0.18, "sig": "no", "label": ""}, {"x": 0.05, "y": 0.06, "sig": "no", "label": ""},
  {"x": 0.08, "y": 0.25, "sig": "no", "label": ""}, {"x": 0.10, "y": 0.32, "sig": "no", "label": ""},
  {"x": 0.07, "y": 0.35, "sig": "no", "label": ""}, {"x": 0.12, "y": 0.20, "sig": "no", "label": ""},
  {"x": 0.11, "y": 0.45, "sig": "no", "label": ""}, {"x": 0.14, "y": 0.40, "sig": "no", "label": ""},
  {"x": 0.15, "y": 0.55, "sig": "no", "label": ""}, {"x": 0.12, "y": 0.60, "sig": "no", "label": ""},
  {"x": 0.18, "y": 0.62, "sig": "no", "label": ""}, {"x": 0.16, "y": 0.70, "sig": "no", "label": ""},
  {"x": 0.20, "y": 0.75, "sig": "no", "label": ""}, {"x": 0.14, "y": 0.78, "sig": "no", "label": ""},
  {"x": 0.22, "y": 0.85, "sig": "no", "label": ""}, {"x": 0.18, "y": 0.90, "sig": "no", "label": ""},
  {"x": 0.24, "y": 0.95, "sig": "no", "label": ""}, {"x": 0.20, "y": 1.00, "sig": "no", "label": ""},
  {"x": 0.26, "y": 1.05, "sig": "no", "label": ""}, {"x": 0.23, "y": 1.08, "sig": "no", "label": ""},
  {"x": 0.27, "y": 0.90, "sig": "no", "label": ""}, {"x": 0.30, "y": 0.80, "sig": "no", "label": ""},
  {"x": 0.32, "y": 0.70, "sig": "no", "label": ""}, {"x": 0.25, "y": 0.55, "sig": "no", "label": ""},
  {"x": 0.28, "y": 0.48, "sig": "no", "label": ""}, {"x": 0.22, "y": 0.40, "sig": "no", "label": ""},
  {"x": 0.20, "y": 0.28, "sig": "no", "label": ""}, {"x": 0.17, "y": 0.15, "sig": "no", "label": ""},
  {"x": 0.12, "y": 0.08, "sig": "no", "label": ""}, {"x": 0.30, "y": 0.25, "sig": "no", "label": ""},
  {"x": 0.35, "y": 0.35, "sig": "no", "label": ""}, {"x": 0.38, "y": 0.50, "sig": "no", "label": ""},
  {"x": 0.33, "y": 0.60, "sig": "no", "label": ""}, {"x": 0.36, "y": 0.75, "sig": "no", "label": ""},
  {"x": 0.40, "y": 0.85, "sig": "no", "label": ""}, {"x": 0.34, "y": 0.95, "sig": "no", "label": ""},
  {"x": 0.30, "y": 1.05, "sig": "no", "label": ""}, {"x": 0.25, "y": 1.29, "sig": "no", "label": ""},
  {"x": 0.61, "y": 1.07, "sig": "no", "label": ""}, {"x": 0.48, "y": 1.02, "sig": "no", "label": ""},
  {"x": 0.64, "y": 0.86, "sig": "no", "label": ""}, {"x": 0.59, "y": 0.76, "sig": "no", "label": ""},
  {"x": 0.50, "y": 0.87, "sig": "no", "label": ""}, {"x": 0.52, "y": 0.41, "sig": "no", "label": ""},
  {"x": 0.44, "y": 0.44, "sig": "no", "label": ""}, {"x": 0.42, "y": 0.60, "sig": "no", "label": ""},
  {"x": 0.45, "y": 0.70, "sig": "no", "label": ""}, {"x": 0.28, "y": 0.15, "sig": "no", "label": ""},
  {"x": 0.08, "y": 0.45, "sig": "no", "label": ""}, {"x": 0.24, "y": 0.18, "sig": "no", "label": ""},
  {"x": 0.32, "y": 1.10, "sig": "no", "label": ""}, {"x": 0.27, "y": 0.72, "sig": "no", "label": ""}
 ],
 "pathway": [
  {"pathway": "Oxidative phosphorylation", "fc": 2.45, "sig": true},
  {"pathway": "Muscle contraction", "fc": 1.95, "sig": true},
  {"pathway": "Citrate cycle (TCA cycle)", "fc": 0.65, "sig": false},
  {"pathway": "Butanoate metabolism", "fc": 0.45, "sig": false},
  {"pathway": "Glycolysis / Gluconeogenesis", "fc": 0.16, "sig": false},
  {"pathway": "Aminoacyl-tRNA biosynthesis", "fc": -0.17, "sig": false},
  {"pathway": "Tryptophan metabolism", "fc": -0.43, "sig": false},
  {"pathway": "Pyruvate metabolism", "fc": -0.46, "sig": false},
  {"pathway": "Arginine and proline metabolism", "fc": -0.49, "sig": false},
  {"pathway": "Glyoxylate and dicarboxylate metabolism", "fc": -0.54, "sig": false},
  {"pathway": "Peroxisome", "fc": -0.57, "sig": false},
  {"pathway": "Propanoate metabolism", "fc": -0.6, "sig": false},
  {"pathway": "Ribosome", "fc": -0.68, "sig": false},
  {"pathway": "Fatty acid degradation", "fc": -0.78, "sig": false},
  {"pathway": "Lysine degradation", "fc": -1.0, "sig": false},
  {"pathway": "Valine, leucine and isoleucine degradation", "fc": -1.43, "sig": false}
 ],
 "cluster": [
  {"term": "Mitochondrial Inner Membrane", "score": 3.55},
  {"term": "Ribosomal Protein", "score": 3.43},
  {"term": "Oxidation-Reduction Process", "score": 2.07}
 ]
}
}
